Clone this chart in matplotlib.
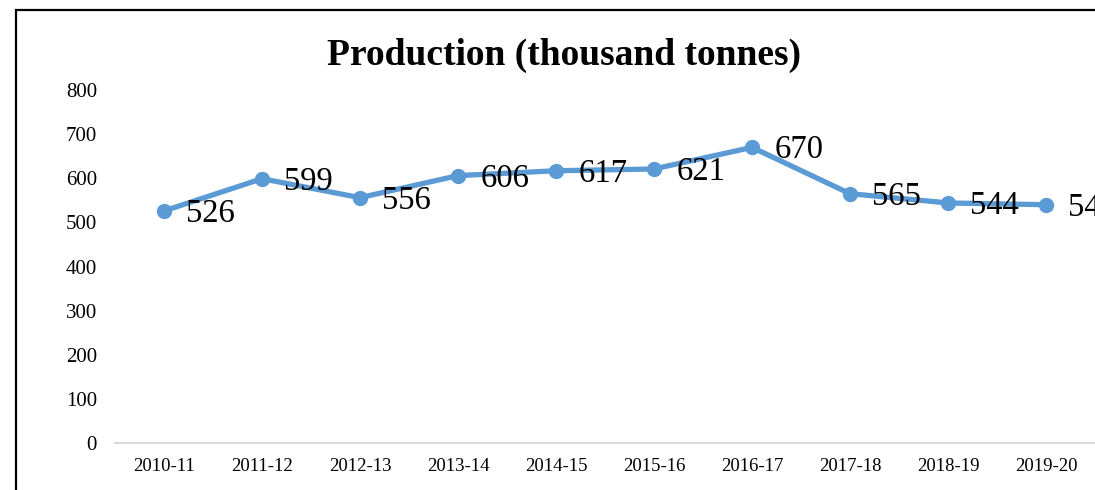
import numpy as np
import matplotlib
matplotlib.use("Agg")
import matplotlib.pyplot as plt
from matplotlib.patches import Rectangle

plt.rcParams['font.family'] = ['Liberation Serif', 'DejaVu Serif']

# 产量数据（千吨）
years = ['2010-11', '2011-12', '2012-13', '2013-14', '2014-15',
         '2015-16', '2016-17', '2017-18', '2018-19', '2019-20']
production = [526, 599, 556, 606, 617, 621, 670, 565, 544, 540]
y_ticks = [0, 100, 200, 300, 400, 500, 600, 700, 800]

W, H = 1095, 490
fig = plt.figure(figsize=(W / 100, H / 100), dpi=100)
ax = fig.add_axes([115 / W, 47 / H, 1 - 115 / W, 353 / H])

x = np.arange(len(years))
ax.plot(x, production, color='#5b9bd5', lw=3.8, marker='o', ms=10,
        solid_capstyle='round', clip_on=False, zorder=3)

# 数据标签放在点的右侧
for xi, v in zip(x, production):
    ax.annotate(str(v), (xi, v), xytext=(16, -2), textcoords='offset points',
                ha='left', va='center', fontsize=23.5, color='black',
                annotation_clip=False)

ax.set_xlim(-0.5, len(years) - 0.5)
ax.set_ylim(0, 800)
ax.set_xticks(x)
ax.set_xticklabels(years, fontsize=13.5)
ax.set_yticks(y_ticks)
ax.set_yticklabels([str(t) for t in y_ticks], fontsize=15)
ax.tick_params(axis='both', length=0)
ax.tick_params(axis='x', pad=11)
ax.tick_params(axis='y', pad=13)

for side in ['top', 'right', 'left']:
    ax.spines[side].set_visible(False)
ax.spines['bottom'].set_color('#d9d9d9')
ax.spines['bottom'].set_linewidth(1.5)

fig.text(564 / W, 1 - 55 / H, 'Production (thousand tonnes)', ha='center',
         va='center', fontsize=27, fontweight='bold')

# 图表外框
fig.patches.append(Rectangle((16 / W, -0.5), 2, 0.5 + 1 - 10 / H,
                             transform=fig.transFigure, fill=False,
                             lw=1.6, edgecolor='black'))

fig.savefig('out.png', dpi=100)
